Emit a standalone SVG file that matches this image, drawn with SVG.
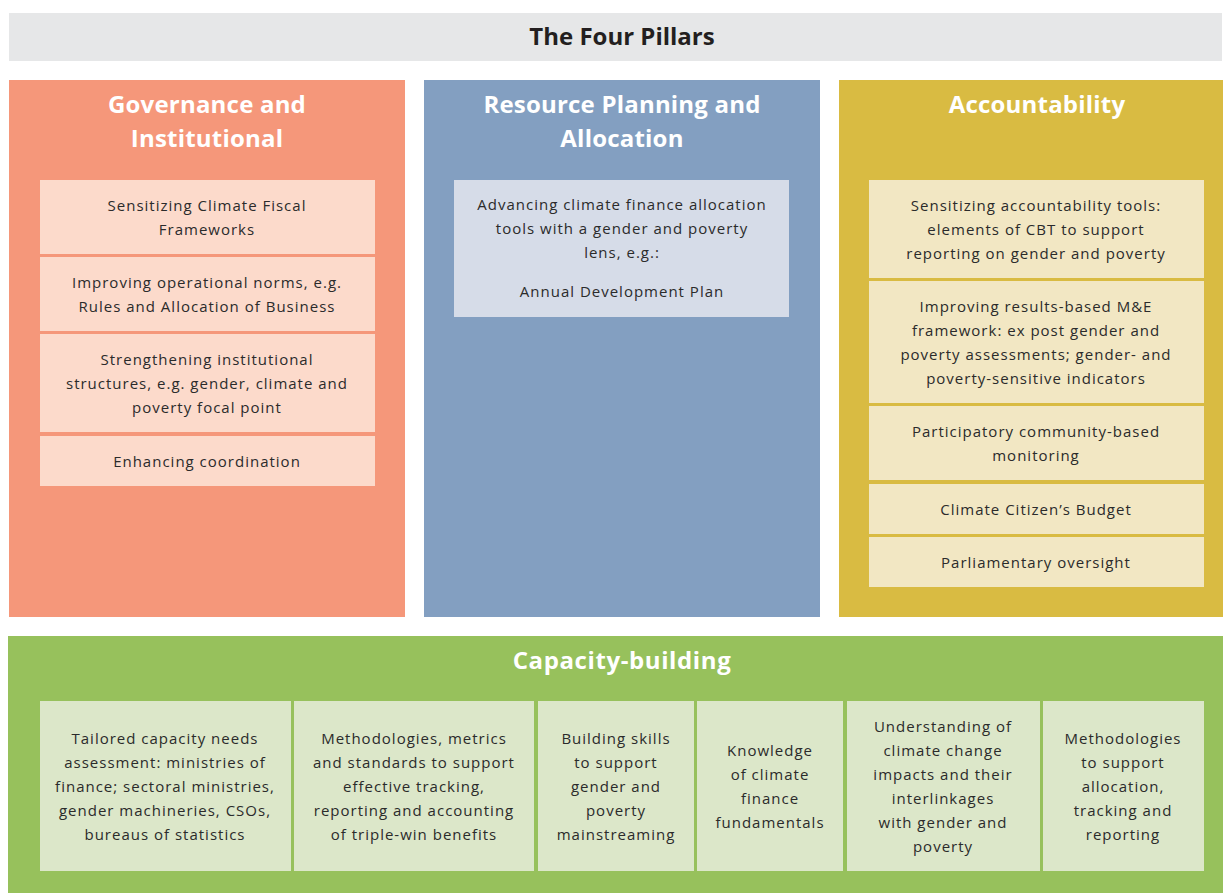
<svg xmlns="http://www.w3.org/2000/svg" width="1223" height="893" viewBox="0 0 1223 893">
<style>
text{font-family:"Open Sans","Noto Sans","Liberation Sans",sans-serif;text-anchor:middle}
.h{font-weight:700;font-size:24px;fill:#ffffff;letter-spacing:0.2px}
.t{font-size:15px;fill:#2b2b2b;letter-spacing:1px}
.gov{fill:#f5977a}.govi{fill:#fcdacb}
.res{fill:#839fc1}.resi{fill:#d6dce8}
.acc{fill:#d9bb42}.acci{fill:#f2e7c3}
.cap{fill:#97c15c}.capi{fill:#dce7c9}
</style>
<rect width="1223" height="893" fill="#ffffff"/>
<g id="title">
<rect x="9" y="13" width="1213" height="48" fill="#e6e7e8"/>
<text x="622" y="45" style="font-weight:700;font-size:24px;fill:#231f20">The Four Pillars</text>
</g>
<g id="governance">
<rect class="gov" x="9" y="80" width="396" height="537"/>
<text class="h" x="207" y="113">Governance and</text>
<text class="h" x="207" y="147">Institutional</text>
</g>
<g id="gov1"><rect class="govi" x="40" y="180" width="335" height="74"/>
<text class="t" x="207" y="211">Sensitizing Climate Fiscal</text><text class="t" x="207" y="235">Frameworks</text></g>
<g id="gov2"><rect class="govi" x="40" y="257" width="335" height="74"/>
<text class="t" x="207" y="288">Improving operational norms, e.g.</text><text class="t" x="207" y="312">Rules and Allocation of Business</text></g>
<g id="gov3"><rect class="govi" x="40" y="334" width="335" height="98"/>
<text class="t" x="207" y="365">Strengthening institutional</text><text class="t" x="207" y="389">structures, e.g. gender, climate and</text><text class="t" x="207" y="413">poverty focal point</text></g>
<g id="gov4"><rect class="govi" x="40" y="436" width="335" height="50"/>
<text class="t" x="207" y="467">Enhancing coordination</text></g>

<g id="resource">
<rect class="res" x="424" y="80" width="396" height="537"/>
<text class="h" x="622" y="113">Resource Planning and</text>
<text class="h" x="622" y="147">Allocation</text>
</g>
<g id="res1"><rect class="resi" x="454" y="180" width="335" height="137"/>
<text class="t" x="622" y="210">Advancing climate finance allocation</text><text class="t" x="622" y="234">tools with a gender and poverty</text><text class="t" x="622" y="258">lens, e.g.:</text><text class="t" x="622" y="297">Annual Development Plan</text></g>

<g id="accountability">
<rect class="acc" x="839" y="80" width="384" height="537"/>
<text class="h" x="1037" y="113">Accountability</text>
</g>
<g id="acc1"><rect class="acci" x="869" y="180" width="335" height="98"/>
<text class="t" x="1036" y="211">Sensitizing accountability tools:</text><text class="t" x="1036" y="235">elements of CBT to support</text><text class="t" x="1036" y="259">reporting on gender and poverty</text></g>
<g id="acc2"><rect class="acci" x="869" y="281" width="335" height="122"/>
<text class="t" x="1036" y="312">Improving results-based M&amp;E</text><text class="t" x="1036" y="336">framework: ex post gender and</text><text class="t" x="1036" y="360">poverty assessments; gender- and</text><text class="t" x="1036" y="384">poverty-sensitive indicators</text></g>
<g id="acc3"><rect class="acci" x="869" y="406" width="335" height="74"/>
<text class="t" x="1036" y="437">Participatory community-based</text><text class="t" x="1036" y="461">monitoring</text></g>
<g id="acc4"><rect class="acci" x="869" y="484" width="335" height="50"/>
<text class="t" x="1036" y="515">Climate Citizen’s Budget</text></g>
<g id="acc5"><rect class="acci" x="869" y="537" width="335" height="50"/>
<text class="t" x="1036" y="568">Parliamentary oversight</text></g>

<g id="capacity">
<rect class="cap" x="8" y="636" width="1215" height="257"/>
<text class="h" x="622" y="669" style="letter-spacing:0.6px">Capacity-building</text>
</g>
<g id="cap1"><rect class="capi" x="40" y="701" width="251" height="170"/>
<text class="t" x="165" y="744">Tailored capacity needs</text><text class="t" x="165" y="768">assessment: ministries of</text><text class="t" x="165" y="792">finance; sectoral ministries,</text><text class="t" x="165" y="816">gender machineries, CSOs,</text><text class="t" x="165" y="840">bureaus of statistics</text></g>
<g id="cap2"><rect class="capi" x="294" y="701" width="240" height="170"/>
<text class="t" x="414" y="744">Methodologies, metrics</text><text class="t" x="414" y="768">and standards to support</text><text class="t" x="414" y="792">effective tracking,</text><text class="t" x="414" y="816">reporting and accounting</text><text class="t" x="414" y="840">of triple-win benefits</text></g>
<g id="cap3"><rect class="capi" x="538" y="701" width="156" height="170"/>
<text class="t" x="616" y="744">Building skills</text><text class="t" x="616" y="768">to support</text><text class="t" x="616" y="792">gender and</text><text class="t" x="616" y="816">poverty</text><text class="t" x="616" y="840">mainstreaming</text></g>
<g id="cap4"><rect class="capi" x="697" y="701" width="146" height="170"/>
<text class="t" x="770" y="756">Knowledge</text><text class="t" x="770" y="780">of climate</text><text class="t" x="770" y="804">finance</text><text class="t" x="770" y="828">fundamentals</text></g>
<g id="cap5"><rect class="capi" x="847" y="701" width="193" height="170"/>
<text class="t" x="943" y="732">Understanding of</text><text class="t" x="943" y="756">climate change</text><text class="t" x="943" y="780">impacts and their</text><text class="t" x="943" y="804">interlinkages</text><text class="t" x="943" y="828">with gender and</text><text class="t" x="943" y="852">poverty</text></g>
<g id="cap6"><rect class="capi" x="1043" y="701" width="161" height="170"/>
<text class="t" x="1123" y="744">Methodologies</text><text class="t" x="1123" y="768">to support</text><text class="t" x="1123" y="792">allocation,</text><text class="t" x="1123" y="816">tracking and</text><text class="t" x="1123" y="840">reporting</text></g>
<g id="connectors"></g>
</svg>
